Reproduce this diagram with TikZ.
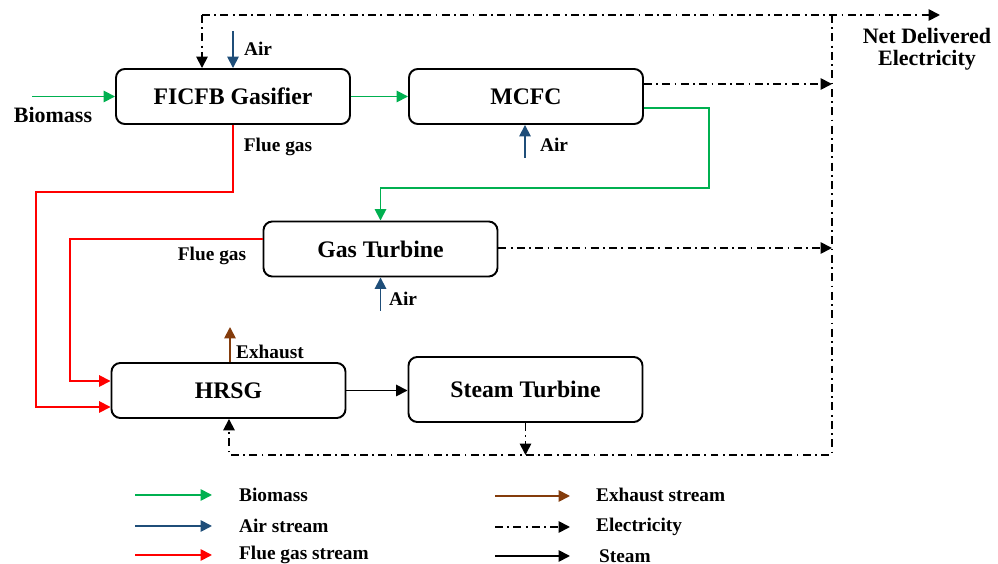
\documentclass[tikz,border=0pt]{standalone}
\usepackage{fontspec}
\setmainfont{Liberation Serif}
\usetikzlibrary{arrows.meta}
\definecolor{bmgreen}{RGB}{0,176,80}
\definecolor{airblue}{RGB}{31,78,121}
\definecolor{fluered}{RGB}{255,0,0}
\definecolor{exhbrown}{RGB}{132,60,12}
\begin{document}
\begin{tikzpicture}[x=0.2mm, y=-0.2mm,
    unit/.style={draw, line width=1.1pt, rounded corners=5pt, minimum width=4.68cm, minimum height=1.1cm, font=\fontsize{13.5}{15}\selectfont\bfseries},
    tag/.style={font=\fontsize{11}{12}\selectfont\bfseries, inner sep=1pt},
    flow/.style={line width=1pt, -{Triangle[length=6.5pt,width=6.5pt]}},
    elec/.style={flow, dash pattern=on 4.5pt off 2.5pt on 1pt off 2.5pt}]
    \useasboundingbox (0,0) rectangle (998,564);
    % process units
    \node [unit] (gasifier) at (233,96.5) {FICFB Gasifier};
    \node [unit] (mcfc) at (526,96.5) {MCFC};
    \node [unit] (gt) at (380.5,249) {Gas Turbine};
    \node [unit] (hrsg) at (228.5,390.5) {HRSG};
    \node [unit, minimum height=1.3cm] (st) at (525.5,389.5) {Steam Turbine};
    % bends and free ends
    \coordinate (bmin) at (32,96.5);
    \coordinate (air1) at (233,31);
    \coordinate (air2) at (525,158);
    \coordinate (air3) at (380.5,311);
    \coordinate (etop) at (202,15);
    \coordinate (eend) at (940,15);
    \coordinate (ebus) at (832,15);
    \coordinate (ebot) at (832,455);
    \coordinate (ehrsg) at (229,455);
    \coordinate (em) at (832,84);
    \coordinate (eg) at (832,248);
    \coordinate (gb1) at (709,108);
    \coordinate (gb2) at (709,188);
    \coordinate (fb1) at (36,192);
    \coordinate (fb2) at (36,407);
    \coordinate (fc1) at (70,239);
    \coordinate (fc2) at (70,381);
    \coordinate (exh) at (230,327);
    % biomass and syngas
    \draw [flow, bmgreen] (bmin) -- (gasifier);
    \draw [flow, bmgreen] (gasifier) -- (mcfc);
    \draw [flow, bmgreen] (mcfc.east |- gb1) -- (gb1) -- (gb2) -- (gb2 -| gt) -- (gt);
    % air
    \draw [flow, airblue] (air1) -- (gasifier.north -| air1);
    \draw [flow, airblue] (air2) -- (mcfc.south -| air2);
    \draw [flow, airblue] (air3) -- (gt);
    % flue gas
    \draw [flow, fluered] (gasifier.south) -- (gasifier.south |- fb1) -- (fb1) -- (fb2) -- (hrsg.west |- fb2);
    \draw [flow, fluered] (gt.west |- fc1) -- (fc1) -- (fc2) -- (hrsg.west |- fc2);
    % exhaust and steam
    \draw [flow, exhbrown] (hrsg.north -| exh) -- (exh);
    \draw [flow] (hrsg.east) -- (hrsg.east -| st.west);
    % electricity
    \draw [elec] (etop) -- (eend);
    \draw [elec] (etop) -- (gasifier.north -| etop);
    \draw [elec] (ebus) -- (ebot) -- (ehrsg) -- (hrsg.south -| ehrsg);
    \draw [elec] (mcfc.east |- em) -- (em);
    \draw [elec] (gt.east |- eg) -- (eg);
    \draw [elec] (st.south) -- (st.south |- ebot);
    % labels
    \node [tag, font=\fontsize{12.5}{14}\selectfont\bfseries] (lbio) at (53,115) {Biomass};
    \node [tag] (lair1) at (258,49) {Air};
    \node [tag] (lair2) at (554,145) {Air};
    \node [tag] (lair3) at (403,299) {Air};
    \node [tag] (lflue1) at (278,147) {Flue gas};
    \node [tag] (lflue2) at (212,256) {Flue gas};
    \node [tag] (lexh) at (270,352) {Exhaust};
    \node [tag, align=center, font=\fontsize{12.5}{12.5}\selectfont\bfseries] (net) at (927,49) {Net Delivered\\Electricity};
    % legend
    \coordinate (k1) at (135,495);
    \coordinate (k2) at (135,526);
    \coordinate (k3) at (135,555);
    \coordinate (k4) at (495,496);
    \coordinate (k5) at (495,527);
    \coordinate (k6) at (495,556);
    \draw [flow, bmgreen] (k1) -- ++(77,0);
    \draw [flow, airblue] (k2) -- ++(77,0);
    \draw [flow, fluered] (k3) -- ++(77,0);
    \draw [flow, exhbrown] (k4) -- ++(75,0);
    \draw [elec] (k5) -- ++(75,0);
    \draw [flow] (k6) -- ++(75,0);
    \node [tag, anchor=west] (t1) at (237,495) {Biomass};
    \node [tag, anchor=west] (t2) at (237,526) {Air stream};
    \node [tag, anchor=west] (t3) at (237,555) {Flue gas stream};
    \node [tag, anchor=west] (t4) at (594,495) {Exhaust stream};
    \node [tag, anchor=west] (t5) at (594,527) {Electricity};
    \node [tag, anchor=west] (t6) at (597,556) {Steam};
\end{tikzpicture}
\end{document}
